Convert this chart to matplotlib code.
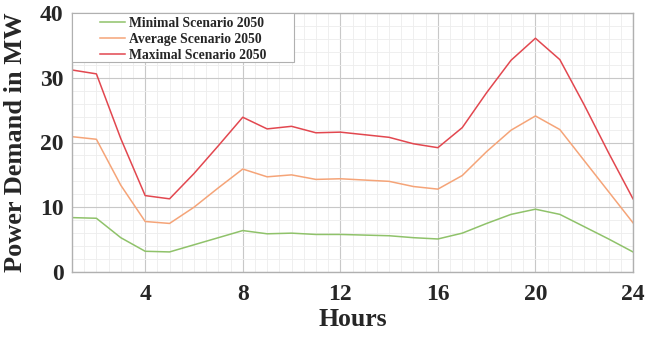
import matplotlib
matplotlib.use("Agg")
import matplotlib.pyplot as plt
from matplotlib.ticker import MultipleLocator
from matplotlib.patches import Rectangle

hours = list(range(1, 25))
minimal = [8.4, 8.3, 5.3, 3.2, 3.1, 4.2, 5.3, 6.4, 5.9, 6.0, 5.8, 5.8,
           5.7, 5.6, 5.3, 5.1, 6.0, 7.5, 8.9, 9.7, 8.9, 7.0, 5.1, 3.1]
average = [20.9, 20.5, 13.4, 7.8, 7.5, 10.0, 13.0, 15.9, 14.7, 15.0, 14.3, 14.4,
           14.2, 14.0, 13.2, 12.8, 14.9, 18.6, 21.9, 24.1, 22.0, 17.2, 12.4, 7.6]
maximal = [31.2, 30.6, 20.6, 11.8, 11.3, 15.2, 19.5, 23.9, 22.1, 22.5, 21.5, 21.6,
           21.2, 20.8, 19.8, 19.2, 22.3, 27.7, 32.7, 36.1, 32.8, 25.8, 18.4, 11.3]
labels = ["Minimal Scenario 2050", "Average Scenario 2050", "Maximal Scenario 2050"]
colors = ["#8fc26a", "#f5a478", "#e2474f"]
xticks = [4, 8, 12, 16, 20, 24]
yticks = [0, 10, 20, 30, 40]

plt.rcParams['font.family'] = ['Liberation Serif', 'DejaVu Serif']
fig = plt.figure(figsize=(6.61, 3.38), dpi=100)
W, H = 661, 338
ax = fig.add_axes([72/W, 1-272/H, (633-72)/W, (272-13)/H])

for ys, lab, c in zip([minimal, average, maximal], labels, colors):
    ax.plot(hours, ys, color=c, lw=1.1, label=lab)

ax.set_xlim(1, 24)
ax.set_ylim(0, 40)
ax.set_xticks(xticks)
ax.set_yticks(yticks)
ax.xaxis.set_minor_locator(MultipleLocator(0.5))
ax.yaxis.set_minor_locator(MultipleLocator(2))
ax.grid(which='major', color='#c8c8c8', lw=0.8)
ax.grid(which='minor', color='#ededed', lw=0.6)
ax.set_axisbelow(True)
ax.tick_params(which='both', length=0)
ax.tick_params(axis='y', pad=6)
ax.tick_params(axis='x', pad=9)
for lab in ax.get_xticklabels() + ax.get_yticklabels():
    lab.set_fontsize(17)
    lab.set_fontweight('bold')
    lab.set_color('#262626')
for s in ax.spines.values():
    s.set_color('#b0b0b0')
    s.set_linewidth(1.0)

ax.set_xlabel("Hours", fontsize=18.5, fontweight='bold', color='#262626', labelpad=2)
ax.set_ylabel("Power Demand in MW", fontsize=19, fontweight='bold', color='#262626')
ax.yaxis.set_label_coords(-(72-27)/561, 0.5)

aw, ah = 561, 259
frame = Rectangle((0, 1-(62-13)/ah), (294-72)/aw, (62-13)/ah, transform=ax.transAxes,
                  facecolor='white', edgecolor='#b0b0b0', lw=0.8, zorder=4)
ax.add_patch(frame)

leg = ax.legend(loc='upper left', bbox_to_anchor=((100-72)/aw, 1-(17-13)/ah),
                prop={'weight': 'bold', 'size': 9.8},
                frameon=False, borderaxespad=0, borderpad=0,
                handlelength=1.85, handletextpad=0.25, labelspacing=0.22)
leg.set_zorder(5)
for t in leg.get_texts():
    t.set_color('#262626')

fig.savefig("out.png", dpi=100)
